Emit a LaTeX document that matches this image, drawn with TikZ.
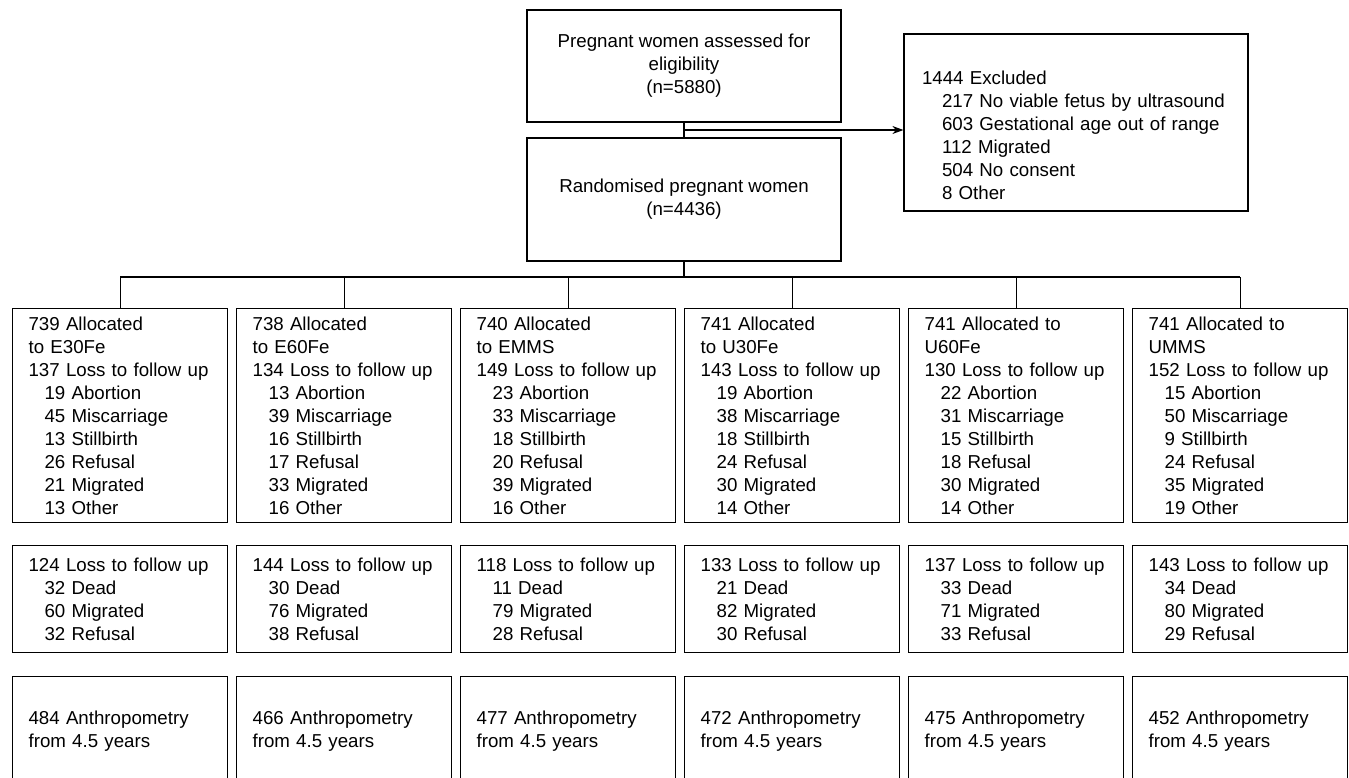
\documentclass[tikz,border=0pt]{standalone}
\usepackage{fontspec}
\setmainfont{Liberation Sans}
\usepackage{tikz}
\usetikzlibrary{positioning}
\usetikzlibrary{arrows.meta}
\usetikzlibrary{calc}
\newcommand{\ind}{\hspace*{16pt}}
\newcommand{\indx}{\hspace*{20pt}}
\tikzset{
  box/.style={draw, line width=1.2pt, inner ysep=0pt, font=\fontsize{18.7pt}{23pt}\selectfont},
  colbox/.style={box, anchor=north west, minimum width=215pt, text width=183pt, inner xsep=16pt, align=left},
  allocbox/.style={colbox, minimum height=214pt},
  lossbox/.style={colbox, minimum height=107pt},
  anthrobox/.style={colbox, minimum height=110pt},
  link/.style={line width=1.2pt}
}

\begin{document}
\begin{tikzpicture}[x=1pt, y=-1pt]
\clip (0,0) rectangle (1349,777);
% Top of the flow
\node [box, align=center, minimum width=314pt, minimum height=112pt] (assessed) at (684,66)
  {Pregnant women assessed for\\eligibility\\(n=5880)};
\node [box, align=center, minimum width=314pt, minimum height=123pt] (random) at (684,199.5)
  {Randomised pregnant women\\(n=4436)};
\node [box, align=left, minimum width=344pt, minimum height=177pt, text width=308pt, inner xsep=18pt] (excluded) at (1076,122.5)
  {\strut\\1444 Excluded\\\indx 217 No viable fetus by ultrasound\\\indx 603 Gestational age out of range\\\indx 112 Migrated\\\indx 504 No consent\\\indx 8 Other};
% Allocation
\node [allocbox] (alloc1) at (12,308)
  {739 Allocated\\to E30Fe\\137 Loss to follow up\\\ind 19 Abortion\\\ind 45 Miscarriage\\\ind 13 Stillbirth\\\ind 26 Refusal\\\ind 21 Migrated\\\ind 13 Other};
\node [allocbox] (alloc2) at (236,308)
  {738 Allocated\\to E60Fe\\134 Loss to follow up\\\ind 13 Abortion\\\ind 39 Miscarriage\\\ind 16 Stillbirth\\\ind 17 Refusal\\\ind 33 Migrated\\\ind 16 Other};
\node [allocbox] (alloc3) at (460,308)
  {740 Allocated\\to EMMS\\149 Loss to follow up\\\ind 23 Abortion\\\ind 33 Miscarriage\\\ind 18 Stillbirth\\\ind 20 Refusal\\\ind 39 Migrated\\\ind 16 Other};
\node [allocbox] (alloc4) at (684,308)
  {741 Allocated\\to U30Fe\\143 Loss to follow up\\\ind 19 Abortion\\\ind 38 Miscarriage\\\ind 18 Stillbirth\\\ind 24 Refusal\\\ind 30 Migrated\\\ind 14 Other};
\node [allocbox] (alloc5) at (908,308)
  {741 Allocated to\\U60Fe\\130 Loss to follow up\\\ind 22 Abortion\\\ind 31 Miscarriage\\\ind 15 Stillbirth\\\ind 18 Refusal\\\ind 30 Migrated\\\ind 14 Other};
\node [allocbox] (alloc6) at (1132,308)
  {741 Allocated to\\UMMS\\152 Loss to follow up\\\ind 15 Abortion\\\ind 50 Miscarriage\\\ind 9 Stillbirth\\\ind 24 Refusal\\\ind 35 Migrated\\\ind 19 Other};
% Follow up
\node [lossbox] (loss1) at (12,545) {124 Loss to follow up\\\ind 32 Dead\\\ind 60 Migrated\\\ind 32 Refusal};
\node [lossbox] (loss2) at (236,545) {144 Loss to follow up\\\ind 30 Dead\\\ind 76 Migrated\\\ind 38 Refusal};
\node [lossbox] (loss3) at (460,545) {118 Loss to follow up\\\ind 11 Dead\\\ind 79 Migrated\\\ind 28 Refusal};
\node [lossbox] (loss4) at (684,545) {133 Loss to follow up\\\ind 21 Dead\\\ind 82 Migrated\\\ind 30 Refusal};
\node [lossbox] (loss5) at (908,545) {137 Loss to follow up\\\ind 33 Dead\\\ind 71 Migrated\\\ind 33 Refusal};
\node [lossbox] (loss6) at (1132,545) {143 Loss to follow up\\\ind 34 Dead\\\ind 80 Migrated\\\ind 29 Refusal};
% Anthropometry
\node [anthrobox] (anthro1) at (12,676) {484 Anthropometry\\from 4.5 years};
\node [anthrobox] (anthro2) at (236,676) {466 Anthropometry\\from 4.5 years};
\node [anthrobox] (anthro3) at (460,676) {477 Anthropometry\\from 4.5 years};
\node [anthrobox] (anthro4) at (684,676) {472 Anthropometry\\from 4.5 years};
\node [anthrobox] (anthro5) at (908,676) {475 Anthropometry\\from 4.5 years};
\node [anthrobox] (anthro6) at (1132,676) {452 Anthropometry\\from 4.5 years};
% Links
\draw [link] (assessed.south) -- (random.north);
\coordinate (split) at ($(assessed.south)!0.5!(random.north)$);
\draw [link, -{Stealth[length=11pt, width=8pt]}] (split) -- (split -| excluded.west);
\coordinate (bus) at (684,277);
\draw [link] (random.south) -- (bus);
\draw [link] (alloc1.north |- bus) -- (alloc6.north |- bus);
\foreach \i in {1,...,6}
  \draw [link] (alloc\i.north |- bus) -- (alloc\i.north);
\end{tikzpicture}
\end{document}
